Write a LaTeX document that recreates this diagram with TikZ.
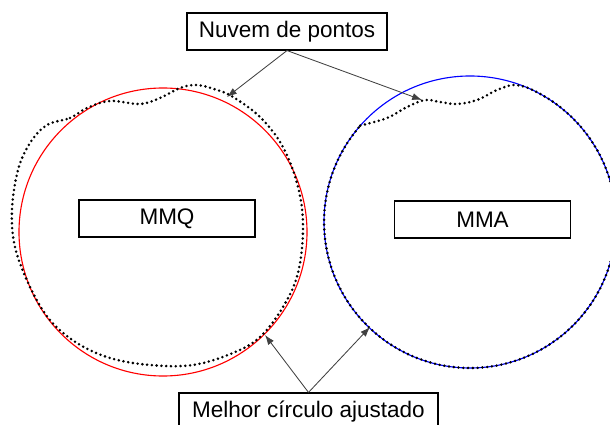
\documentclass[tikz,border=0pt]{standalone}
\usepackage{fontspec}
\setmainfont{Liberation Sans}
\usetikzlibrary{positioning, arrows.meta}

\begin{document}
\begin{tikzpicture}[x=0.025cm, y=-0.025cm,
        box/.style={draw, rectangle, line width=0.8pt, fill=white, inner sep=0pt, minimum height=0.925cm, font=\fontsize{16}{19}\selectfont},
        arrow/.style={-{Latex[length=7pt, width=5pt]}, draw=black!75, line width=0.6pt},
        cloud/.style={line width=2pt, line cap=round, dash pattern=on 0pt off 3.4pt}
    ]
    \useasboundingbox (0,0) rectangle (610,425);
    \clip (0,0) rectangle (610,425);

    % fitted circles
    \draw[red, line width=0.8pt] (163,232) circle[radius=144];
    \draw[blue, line width=0.8pt] (470,222) circle[radius=146];

    % point clouds
    \draw[cloud] plot[smooth cycle, tension=0.6] coordinates {(47,125) (70,118) (87,108) (110,101) (140,104) (160,98) (180,88) (197,85) (217,90) (233,97) (260,117) (283,147) (298,187) (303,227) (298,273) (283,307) (260,337) (233,353) (193,365) (150,365) (110,358) (77,343) (50,320) (30,287) (15,247) (12,210) (18,170) (30,143)};
    \draw[cloud] plot[smooth, tension=0.6] coordinates {(360.3,125.6) (387,118) (407,107) (425,100) (440,102) (457,104) (477,100) (497,90) (513,85) (526.4,87.3)} arc[start angle=-67.3, end angle=221.3, radius=146];

    \node[box, minimum width=5cm] (nuvem) at (287,31.5) {Nuvem de pontos};
    \node[box, minimum width=4.4cm] (mmq) at (167,218.5) {MMQ};
    \node[box, minimum width=4.4cm] (mma) at (482.5,219.5) {MMA};
    \node[box, minimum width=6.475cm] (ajuste) at (308.5,411.5) {Melhor círculo ajustado};

    \coordinate (cloudL) at (227,97);
    \coordinate (cloudR) at (422,100);
    \coordinate (fitL) at (265,335);
    \coordinate (fitR) at (370,327);

    \draw[arrow] (nuvem.south) -- (cloudL);
    \draw[arrow] (nuvem.south) -- (cloudR);
    \draw[arrow] (ajuste.north) -- (fitL);
    \draw[arrow] (ajuste.north) -- (fitR);
\end{tikzpicture}
\end{document}
